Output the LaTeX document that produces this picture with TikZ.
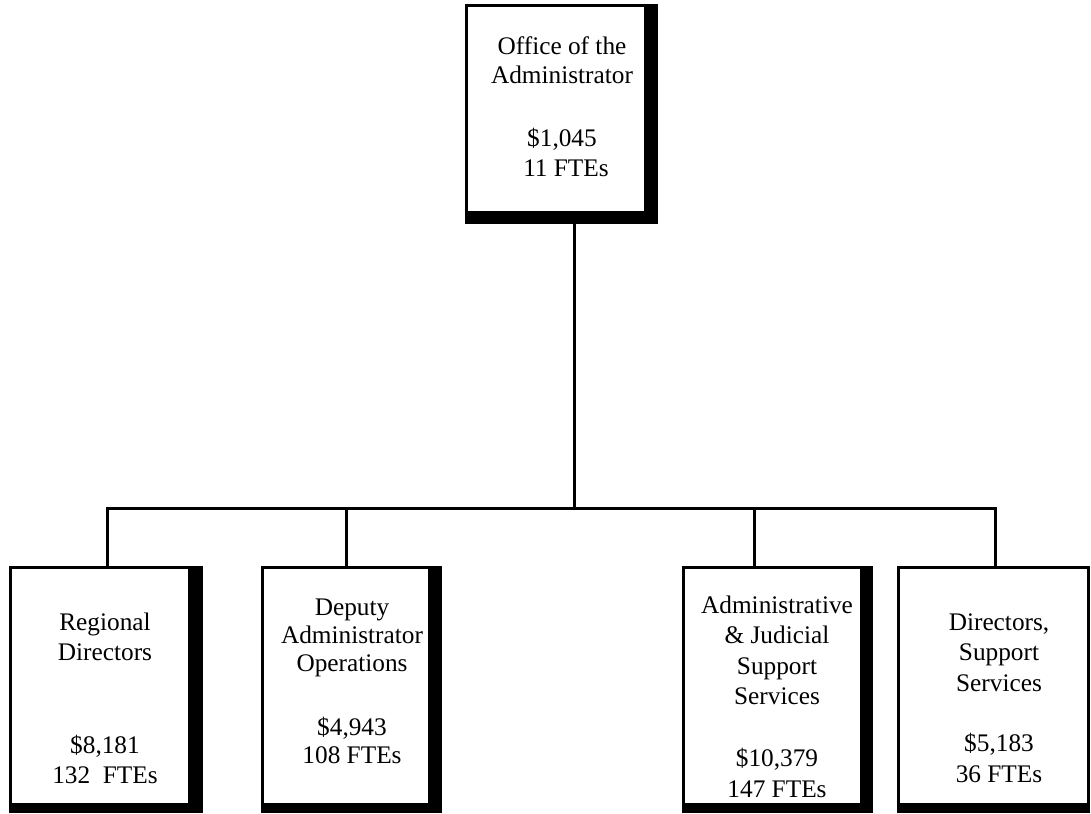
\documentclass[tikz,border=0pt]{standalone}
\usepackage{fontspec}
\setmainfont{Liberation Serif}
\begin{document}
\begin{tikzpicture}[x=1pt,y=-1pt,
  box/.style={draw, line width=3pt, fill=white, inner sep=0pt, rectangle},
  band/.style={fill=black},
  conn/.style={line width=3pt},
  lbl/.style={font=\fontsize{25.3}{#1}\selectfont, align=center, inner sep=0pt, anchor=north}]
\useasboundingbox (0,0) rectangle (1091,813);

% connectors (drawn first, boxes on top)
\coordinate (hub) at (574.5,508.5);
\coordinate (jr) at (107.5,508.5);
\coordinate (jd) at (346.5,508.5);
\coordinate (ja) at (754.5,508.5);
\coordinate (jdir) at (995.5,508.5);

% boxes
\node[box, minimum width=190pt, minimum height=217pt] (top) at (561.5,114) {};
\node[box, minimum width=191pt, minimum height=244pt] (reg) at (106,689.5) {};
\node[box, minimum width=178pt, minimum height=244pt] (dep) at (351.5,689.5) {};
\node[box, minimum width=188pt, minimum height=244pt] (adm) at (777.5,689.5) {};
\node[box, minimum width=190pt, minimum height=244pt] (dir) at (993.5,689.5) {};

% shadow bands
\fill[band] (644,4) rectangle (658,224);
\fill[band] (465,211) rectangle (658,224);
\fill[band] (188,566) rectangle (203,813);
\fill[band] (9,803) rectangle (203,813);
\fill[band] (428,566) rectangle (442,813);
\fill[band] (261,803) rectangle (442,813);
\fill[band] (860,566) rectangle (873,813);
\fill[band] (682,803) rectangle (873,813);
\fill[band] (897,803) rectangle (1090,813);

\draw[conn] (top.south -| hub) -- (hub);
\draw[conn] (jr |- reg.north) -- (jr) -- (jdir) -- (jdir |- dir.north);
\draw[conn] (jd) -- (jd |- dep.north);
\draw[conn] (ja) -- (ja |- adm.north);

% labels
\node[lbl=29.5] (ttop) at (562,33.35) {\strut Office of the\\\strut Administrator\\[33.5pt]\strut\$1,045\\\hspace*{8pt}\strut 11 FTEs};
\node[lbl=30] (treg) at (105,609) {\strut Regional\\\strut Directors\\[63.3pt]\strut\$8,181\\\strut 132\ \ FTEs};
\node[lbl=28] (tdep) at (352,595.4) {\strut Deputy\\\strut Administrator\\\strut Operations\\[36pt]\strut\$4,943\\\strut 108 FTEs};
\node[lbl=30.5] (tadm) at (777,591.65) {\strut Administrative\\\strut\& Judicial\\\strut Support\\\strut Services\\[31.7pt]\strut\$10,379\\\strut 147 FTEs};
\node[lbl=30.5] (tdir) at (999,608.65) {\strut Directors,\\\strut Support\\\strut Services\\[30.2pt]\strut\$5,183\\\strut 36 FTEs};
\end{tikzpicture}
\end{document}
